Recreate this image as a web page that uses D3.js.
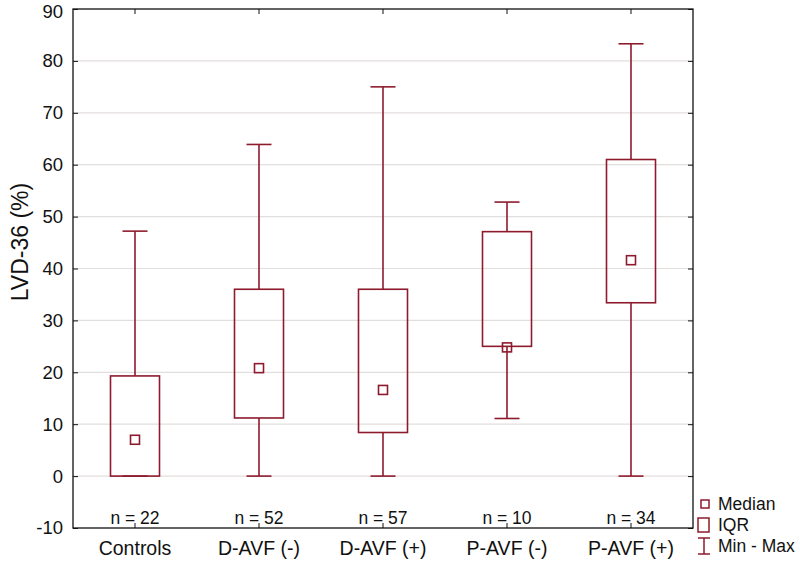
<!DOCTYPE html>
<html><head><meta charset="utf-8">
<script src="https://cdn.jsdelivr.net/npm/d3@7"></script>
<style>body{margin:0;background:#fff;} text{font-family:"Liberation Sans",Arial,sans-serif;}</style>
</head><body><svg id="c" width="800" height="563"></svg>
<script>
const categories = ["Controls","D-AVF (-)","D-AVF (+)","P-AVF (-)","P-AVF (+)"];
const nCounts = [22,52,57,10,34];
const minVals = [0,0,0,11.1,0];
const q1Vals = [0,11.2,8.4,25.0,33.4];
const medianVals = [7.0,20.8,16.6,24.8,41.6];
const q3Vals = [19.3,36.0,36.0,47.1,61.0];
const maxVals = [47.2,63.9,75.0,52.8,83.3];
const yTicks = [-10,0,10,20,30,40,50,60,70,80,90];
const legendLabels = ["Median","IQR","Min - Max"];

const col = "#8e1b2d";
const svg = d3.select("#c");
const L=73,R=693,T=9,B=528;
const x = d3.scaleBand().domain(categories).range([L,R]);
const y = d3.scaleLinear().domain([-10,90]).range([B,T]);
const FF = "Liberation Sans, Arial, sans-serif";

// gridlines
svg.append("g").selectAll("line").data(yTicks.filter(d=>d>-10&&d<90)).join("line")
 .attr("x1",L).attr("x2",R).attr("y1",d=>y(d)).attr("y2",d=>y(d))
 .attr("stroke","#e3dede").attr("stroke-width",1.2);

// axes with inward ticks
const fmt = d=>String(d);
svg.append("g").attr("transform",`translate(${L},0)`)
 .call(d3.axisLeft(y).tickValues(yTicks).tickSizeInner(-5).tickSizeOuter(0).tickPadding(10).tickFormat(fmt))
 .call(g=>{g.select(".domain").remove();g.selectAll("text").attr("font-size",18.5).attr("fill","#111").attr("font-family",FF)
   .attr("dy",d=>d===90?"0.45em":"0.32em");g.selectAll("line").attr("stroke","#111");});
svg.append("g").attr("transform",`translate(${R},0)`)
 .call(d3.axisRight(y).tickValues(yTicks).tickSizeInner(-5).tickSizeOuter(0).tickFormat(""))
 .call(g=>{g.select(".domain").remove();g.selectAll("line").attr("stroke","#111");});
svg.append("g").attr("transform",`translate(0,${T})`)
 .call(d3.axisTop(x).tickSizeInner(-5).tickSizeOuter(0).tickFormat(""))
 .call(g=>{g.select(".domain").remove();g.selectAll("line").attr("stroke","#111");});
svg.append("g").attr("transform",`translate(0,${B})`)
 .call(d3.axisBottom(x).tickSizeInner(-5).tickSizeOuter(0).tickPadding(0))
 .call(g=>{g.select(".domain").remove();g.selectAll("line").attr("stroke","#111");
   g.selectAll("text").attr("font-size",19.5).attr("fill","#111").attr("font-family",FF).attr("y",27).attr("dy",null);});

// frame
svg.append("rect").attr("x",L).attr("y",T).attr("width",R-L).attr("height",B-T)
 .attr("fill","none").attr("stroke","#111").attr("stroke-width",1.3);

const data = categories.map((c,i)=>({c,n:nCounts[i],min:minVals[i],q1:q1Vals[i],med:medianVals[i],q3:q3Vals[i],max:maxVals[i]}));
const bw = 49, cw = 25, ms = 9;
const g = svg.append("g").attr("stroke",col).attr("stroke-width",1.6).attr("fill","none");
data.forEach(d=>{
  const cx = x(d.c)+x.bandwidth()/2;
  g.append("line").attr("x1",cx).attr("x2",cx).attr("y1",y(d.q3)).attr("y2",y(d.max));
  g.append("line").attr("x1",cx).attr("x2",cx).attr("y1",y(d.q1)).attr("y2",y(d.min));
  g.append("line").attr("x1",cx-cw/2).attr("x2",cx+cw/2).attr("y1",y(d.max)).attr("y2",y(d.max));
  g.append("line").attr("x1",cx-cw/2).attr("x2",cx+cw/2).attr("y1",y(d.min)).attr("y2",y(d.min));
  g.append("rect").attr("x",cx-bw/2).attr("width",bw).attr("y",y(d.q3)).attr("height",y(d.q1)-y(d.q3));
  g.append("rect").attr("x",cx-ms/2).attr("y",y(d.med)-ms/2).attr("width",ms).attr("height",ms);
  svg.append("text").attr("x",cx).attr("y",524).attr("text-anchor","middle").attr("font-size",17.5).attr("fill","#111").text("n = "+d.n);
});

// y title
svg.append("text").attr("transform","translate(28,242) rotate(-90)").attr("text-anchor","middle")
 .attr("font-size",23).attr("fill","#111").text("LVD-36 (%)");

// legend
const lg = svg.append("g");
lg.append("rect").attr("x",701).attr("y",500).attr("width",8).attr("height",8).attr("fill","none").attr("stroke",col).attr("stroke-width",1.5);
lg.append("rect").attr("x",698).attr("y",518).attr("width",11).attr("height",14).attr("fill","none").attr("stroke",col).attr("stroke-width",1.5);
lg.append("line").attr("x1",704).attr("x2",704).attr("y1",538).attr("y2",554).attr("stroke",col).attr("stroke-width",1.5);
lg.append("line").attr("x1",698).attr("x2",710).attr("y1",538).attr("y2",538).attr("stroke",col).attr("stroke-width",1.5);
lg.append("line").attr("x1",698).attr("x2",710).attr("y1",554).attr("y2",554).attr("stroke",col).attr("stroke-width",1.5);
const ly=[510,531,552];
legendLabels.forEach((t,i)=>lg.append("text").attr("x",718).attr("y",ly[i]).attr("font-size",17.5).attr("fill","#111").text(t));
</script></body></html>
